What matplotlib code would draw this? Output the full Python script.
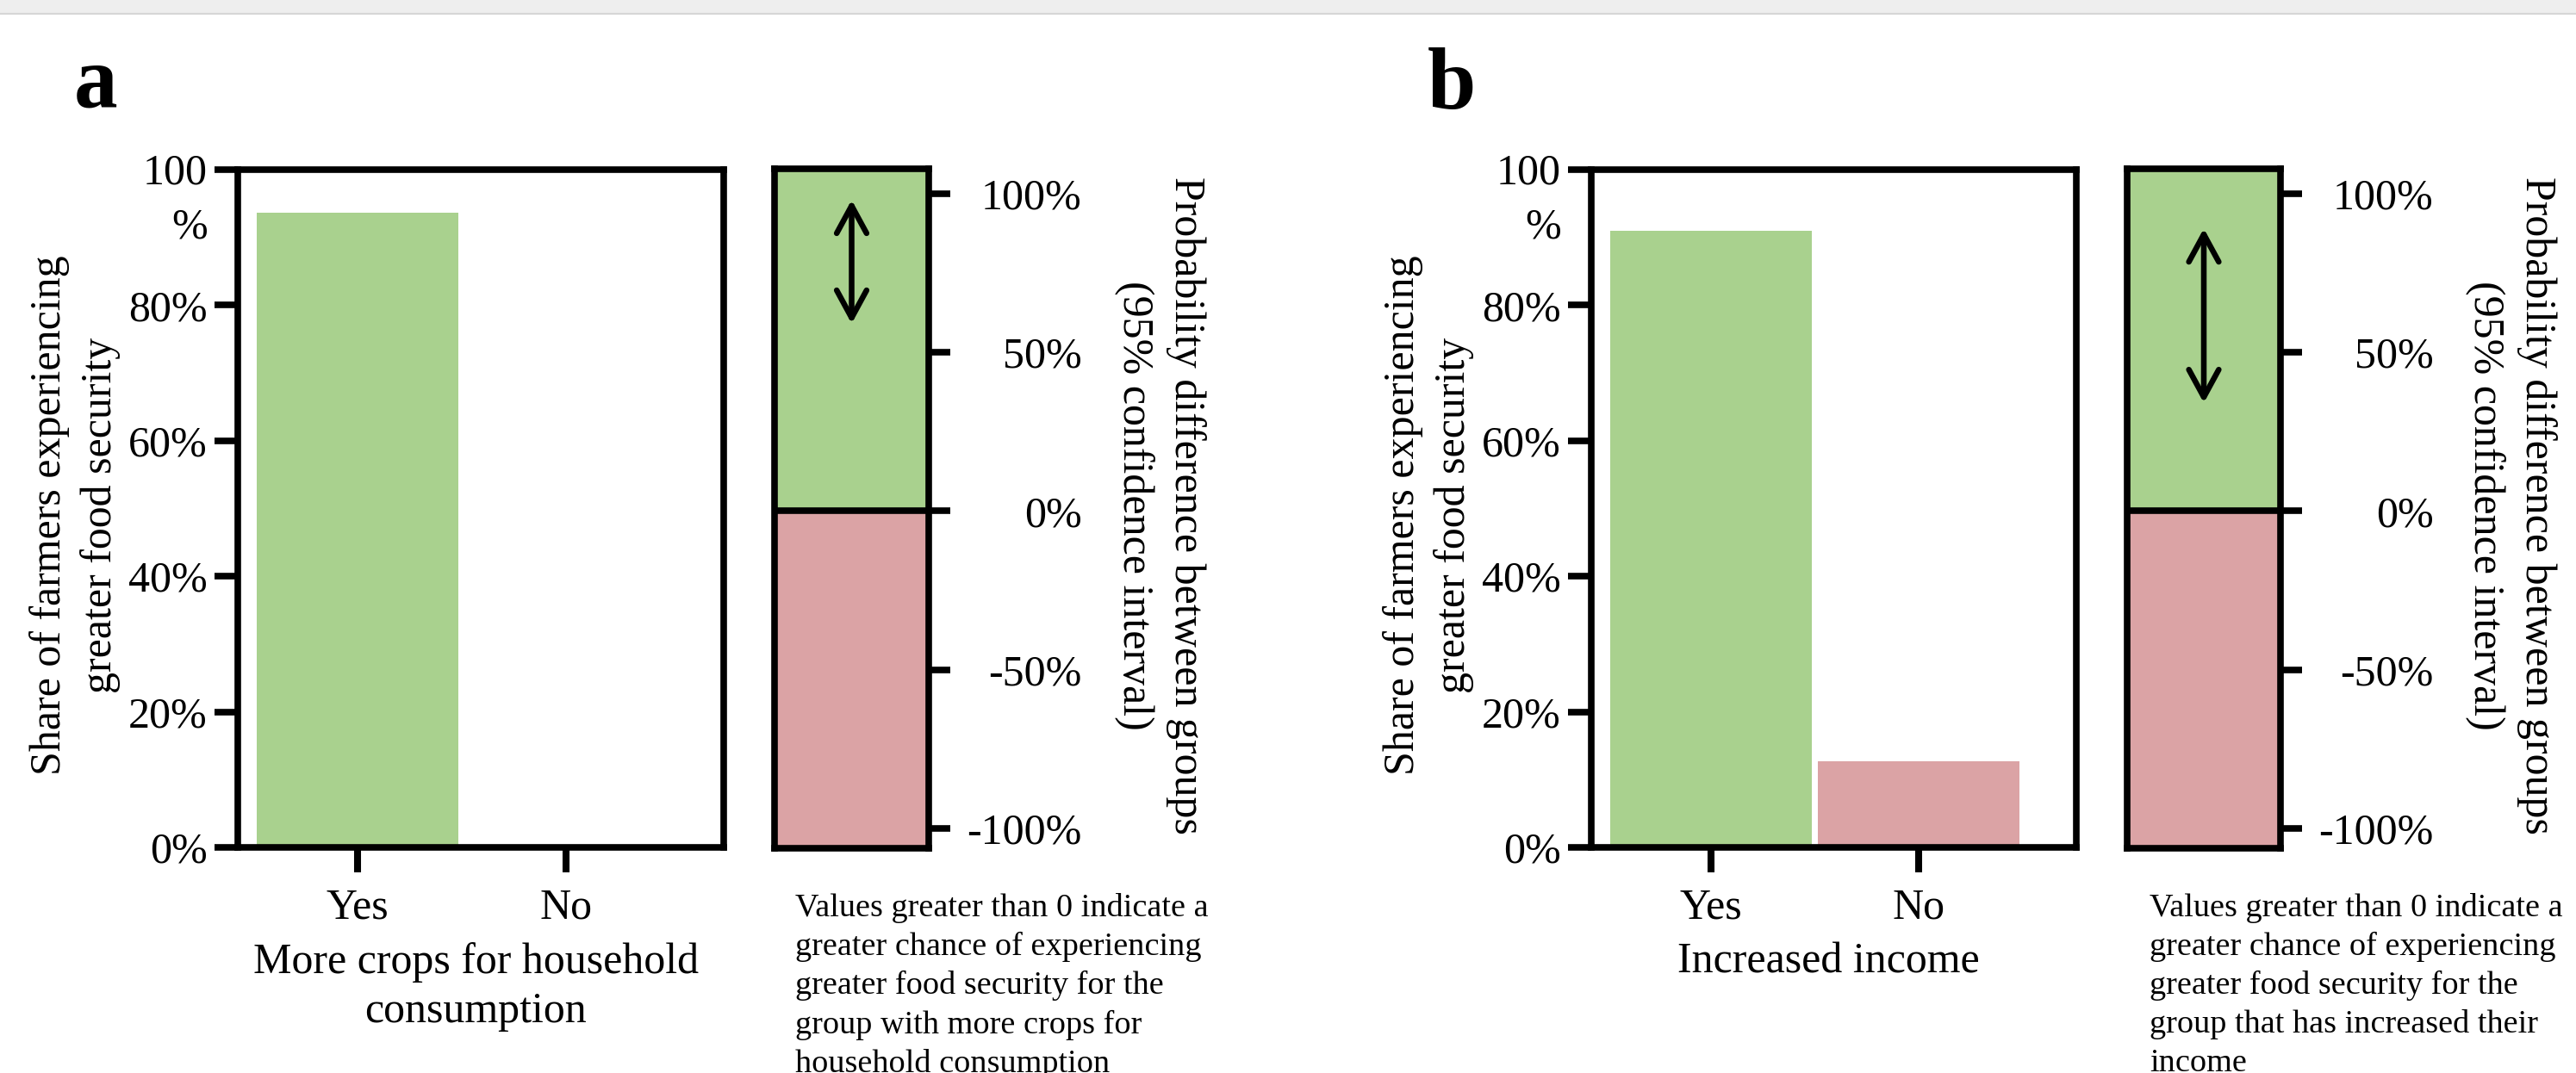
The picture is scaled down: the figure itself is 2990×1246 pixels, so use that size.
import matplotlib
matplotlib.use('Agg')
import matplotlib.pyplot as plt
import matplotlib.transforms as mtransforms
from matplotlib.patches import Rectangle
from matplotlib.lines import Line2D

plt.rcParams['font.family'] = ['Liberation Serif', 'DejaVu Serif']

# ---------------- data ----------------
categories = ['Yes', 'No']
share_a = [93.6, 0.0]          # % experiencing greater food security
share_b = [91.0, 12.7]
ci_a = [59, 98]                # probability difference, 95% CI (%)
ci_b = [34, 89]
bar_ticks = [0, 20, 40, 60, 80, 100]
bar_ticklabels = ['0%', '20%', '40%', '60%', '80%', '100\n%']
diff_ticks = [-100, -50, 0, 50, 100]
diff_ticklabels = ['-100%', '-50%', '0%', '50%', '100%']
xlabel_a = 'More crops for household\nconsumption'
xlabel_b = 'Increased income'
ylabel_left = 'Share of farmers experiencing\ngreater food security'
ylabel_right = 'Probability difference between groups\n(95% confidence interval)'
note_a = ('Values greater than 0 indicate a\ngreater chance of experiencing\n'
          'greater food security for the\ngroup with more crops for\nhousehold consumption')
note_b = ('Values greater than 0 indicate a\ngreater chance of experiencing\n'
          'greater food security for the\ngroup that has increased their\nincome')

GREEN = '#A9D18E'
PINK = '#DBA3A5'

W, H = 2990, 1246
fig = plt.figure(figsize=(W / 100, H / 100), dpi=100)

# browser-like grey band at the top
fig.patches.append(Rectangle((0, 1 - 15 / H), 1, 15 / H, transform=fig.transFigure,
                             facecolor='#eeeeee', edgecolor='none'))
fig.lines.append(Line2D([0, 1], [1 - 16 / H, 1 - 16 / H], transform=fig.transFigure,
                        color='#d6d6d6', lw=1.5))

SP_LW = 5.5
FS = 36


def rect(x0, x1, y0=197, y1=984):
    return [x0 / W, 1 - y1 / H, (x1 - x0) / W, (y1 - y0) / H]


def bar_panel(x0, x1, shares, xlabel):
    ax = fig.add_axes(rect(x0, x1))
    ax.bar(range(len(categories)), shares, width=0.97, color=[GREEN, PINK])
    ax.set_xlim(-0.575, 1.757)
    ax.set_ylim(0, 100)
    ax.set_xticks(range(len(categories)), categories)
    ax.set_yticks(bar_ticks, bar_ticklabels)
    for s in ax.spines.values():
        s.set_linewidth(SP_LW)
    ax.tick_params(axis='y', length=19.5, width=5.5, pad=6, labelsize=FS)
    ax.tick_params(axis='x', length=21, width=5.8, pad=13, labelsize=FS)
    t = ax.yaxis.get_major_ticks()[-1].label1
    t.set_verticalalignment('top')
    t.set_linespacing(1.46)
    t.set_transform(t.get_transform() +
                    mtransforms.ScaledTranslation(0, 0.19, fig.dpi_scale_trans))
    ax.set_xlabel(xlabel, fontsize=FS, linespacing=1.29)
    ax.xaxis.set_label_coords(0.49, -0.14)
    ax.set_ylabel(ylabel_left, fontsize=FS, linespacing=1.34)
    ax.yaxis.set_label_coords(-0.241, 0.49)
    return ax


def diff_panel(x0, x1, ci):
    ax = fig.add_axes(rect(x0, x1, 196, 985))
    ylo, yhi = -106.3, 107.8
    ax.set_xlim(0, 1)
    ax.set_ylim(ylo, yhi)
    ax.axhspan(0, yhi, color=GREEN, lw=0)
    ax.axhspan(ylo, 0, color=PINK, lw=0)
    ax.axhline(0, color='black', lw=SP_LW)
    ax.annotate('', xy=(0.5, ci[1]), xytext=(0.5, ci[0]),
                arrowprops=dict(arrowstyle='<->,head_length=2.3,head_width=1.25',
                                lw=4.7, color='black', shrinkA=0, shrinkB=0))
    ax.set_xticks([])
    ax.yaxis.tick_right()
    ax.set_yticks(diff_ticks, diff_ticklabels)
    ax.tick_params(axis='y', length=18, width=5.5, pad=110, labelsize=FS)
    for t in ax.get_yticklabels():
        t.set_horizontalalignment('right')
    for s in ax.spines.values():
        s.set_linewidth(SP_LW)
    ax.yaxis.set_label_position('right')
    ax.set_ylabel(ylabel_right, fontsize=FS, rotation=270, va='bottom', linespacing=1.38)
    ax.yaxis.set_label_coords(2.2, 0.505)
    return ax


bar_panel(276, 840, share_a, xlabel_a)
diff_panel(899, 1078, ci_a)
bar_panel(1847, 2410, share_b, xlabel_b)
diff_panel(2469, 2647, ci_b)

fig.text(86 / W, 1 - 124 / H, 'a', fontsize=73, fontweight='bold', va='baseline', ha='left')
fig.text(1657 / W, 1 - 126 / H, 'b', fontsize=73, fontweight='bold', va='baseline', ha='left')

fig.text(923 / W, 1 - 1037 / H, note_a, fontsize=27.5, va='top', ha='left', linespacing=1.37)
fig.text(2495 / W, 1 - 1037 / H, note_b, fontsize=27.5, va='top', ha='left', linespacing=1.37)

fig.savefig('out.png', dpi=100, facecolor='white')
